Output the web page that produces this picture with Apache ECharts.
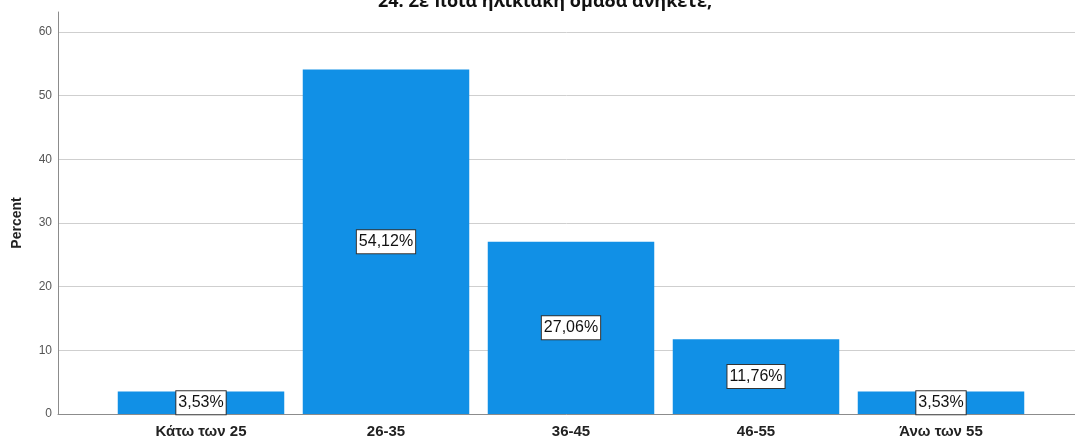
<!DOCTYPE html>
<html><head><meta charset="utf-8">
<script src="https://cdn.jsdelivr.net/npm/echarts@6/dist/echarts.min.js"></script>
<style>html,body{margin:0;padding:0;background:#fff}#c{width:1075px;height:441px}</style>
</head><body><div id="c"></div>
<script>
const title = '24. Σε ποια ηλικιακή ομάδα ανήκετε;';
const categories = ['Κάτω των 25', '26-35', '36-45', '46-55', 'Άνω των 55'];
const percents = [3.53, 54.12, 27.06, 11.76, 3.53];
const yTicks = [0, 10, 20, 30, 40, 50, 60];
const yName = 'Percent';

const chart = echarts.init(document.getElementById('c'), null, {renderer: 'canvas'});
const F = 'Arial, "Liberation Sans", sans-serif';
chart.setOption({
  animation: false,
  backgroundColor: '#fff',
  title: {
    text: title, left: 373, top: -12,
    textStyle: {fontFamily: '"Open Sans", sans-serif', fontSize: 18, fontWeight: 'bold', color: '#111'}
  },
  grid: [
    {left: 58, right: 0, top: 32, bottom: 27, containLabel: false},
    {left: 58, width: 1, top: 12, bottom: 27},
    {left: 108.5, right: 41.5, top: 32, bottom: 27}
  ],
  xAxis: [
    {gridIndex: 0, type: 'value', min: 0, max: 1, show: true,
     axisLine: {show: true, onZero: false, lineStyle: {color: '#8c8c8c', width: 1}},
     axisTick: {show: false}, axisLabel: {show: false}, splitLine: {show: false}},
    {gridIndex: 1, type: 'value', min: 0, max: 1, show: false},
    {gridIndex: 2, type: 'category', data: categories,
     axisLine: {show: false}, axisTick: {show: false},
     axisLabel: {margin: 10, fontFamily: F, fontSize: 15, fontWeight: 'bold', color: '#222'}}
  ],
  yAxis: [
    {gridIndex: 0, type: 'value', min: yTicks[0], max: yTicks[yTicks.length - 1], interval: 10,
     name: yName, nameLocation: 'middle', nameGap: 34, nameRotate: 90,
     nameTextStyle: {fontFamily: F, fontSize: 14, fontWeight: 'bold', color: '#222'},
     axisLine: {show: false}, axisTick: {show: false},
     axisLabel: {margin: 6, fontFamily: F, fontSize: 12, color: '#555'},
     splitLine: {show: true, lineStyle: {color: '#cfcfcf', width: 1}}},
    {gridIndex: 1, type: 'value', min: 0, max: 63,
     axisLine: {show: true, lineStyle: {color: '#8c8c8c', width: 1}},
     axisTick: {show: false}, axisLabel: {show: false}, splitLine: {show: false}},
    {gridIndex: 2, type: 'value', min: yTicks[0], max: yTicks[yTicks.length - 1], show: false}
  ],
  series: [{
    type: 'bar', xAxisIndex: 2, yAxisIndex: 2,
    data: percents,
    barCategoryGap: '10%',
    itemStyle: {color: '#1190e6'},
    label: {
      show: true, position: 'inside',
      formatter: p => p.value.toFixed(2).replace('.', ',') + '%',
      fontFamily: F, fontSize: 16, color: '#111',
      backgroundColor: '#fff', borderColor: '#333', borderWidth: 1,
      padding: [4, 2, 3, 2]
    }
  }]
});
</script></body></html>
